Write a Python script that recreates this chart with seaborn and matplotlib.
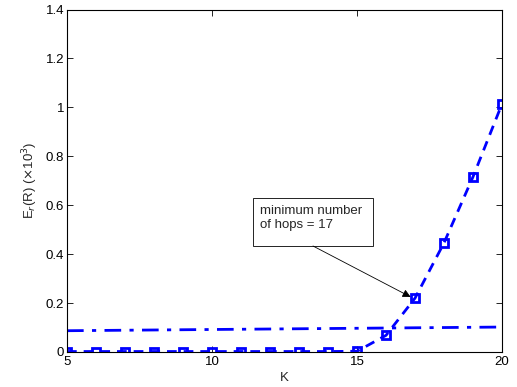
import matplotlib
matplotlib.use("Agg")
import matplotlib.pyplot as plt
from matplotlib.patches import Rectangle
import seaborn as sns
import pandas as pd

K = list(range(5, 21))
er_hops = [0.002, 0.002, 0.002, 0.002, 0.002, 0.002, 0.002, 0.002, 0.002, 0.002, 0.003,
           0.068, 0.22, 0.446, 0.716, 1.014]
er_bound = [0.087, 0.088, 0.089, 0.090, 0.091, 0.092, 0.093, 0.094, 0.095, 0.096, 0.097,
            0.098, 0.099, 0.100, 0.101, 0.102]
annot_text = "minimum number\nof hops = 17"
annot_k = 17

sns.set_theme(style="white")
plt.rcParams['font.family'] = ['Liberation Sans', 'DejaVu Sans']

df = pd.DataFrame({"K": K, "hops": er_hops, "bound": er_bound})

fig = plt.figure(figsize=(5.17, 3.87), dpi=100)
ax = fig.add_axes([67/517, 1-352/387, (502-67)/517, (352-9.5)/387])

sns.lineplot(data=df, x="K", y="bound", ax=ax, color="#0000FF", linewidth=2,
             linestyle=(0, (6, 3, 1.5, 3)))
sns.lineplot(data=df, x="K", y="hops", ax=ax, color="#0000FF", linewidth=2,
             linestyle=(0, (3.5, 2.5)), marker="s", markersize=6,
             markerfacecolor="none", markeredgecolor="#0000FF", markeredgewidth=2)

fs = 9.5
ax.set_xlim(5, 20)
ax.set_ylim(0, 1.4)
ax.set_xticks([5, 10, 15, 20])
ax.set_xticklabels(["5", "10", "15", "20"])
ax.set_yticks([0, 0.2, 0.4, 0.6, 0.8, 1.0, 1.2, 1.4])
ax.set_yticklabels(["0", "0.2", "0.4", "0.6", "0.8", "1", "1.2", "1.4"])
ax.tick_params(direction="in", length=4, width=0.6, labelsize=fs, colors="black",
               top=True, right=True, bottom=True, left=True, pad=2)
ax.tick_params(axis="x", pad=3)
for s in ax.spines.values():
    s.set_color("black")
    s.set_linewidth(0.8)

ax.set_xlabel("K", fontsize=fs, labelpad=3)
ax.set_ylabel(r"E$_r$(R) ($\times$10$^3$)", fontsize=fs, labelpad=4)

# annotation box (axes fraction)
ax.add_patch(Rectangle((0.4276, 0.3095), 0.7034 - 0.4276, 0.4496 - 0.3095,
                       transform=ax.transAxes, fc="white", ec="black", lw=0.6, zorder=5))
ax.text(0.4437, 0.3907, annot_text, transform=ax.transAxes, fontsize=fs,
        ha="left", va="center", linespacing=1.2, zorder=6)
ax.annotate("", xy=(annot_k - 0.15, er_hops[K.index(annot_k)] + 0.005),
            xytext=(0.5655, 0.3095), textcoords="axes fraction",
            arrowprops=dict(arrowstyle="-|>", color="black", lw=0.6,
                            shrinkA=0, shrinkB=0, mutation_scale=12), zorder=6)

fig.savefig("out.png", dpi=100)
